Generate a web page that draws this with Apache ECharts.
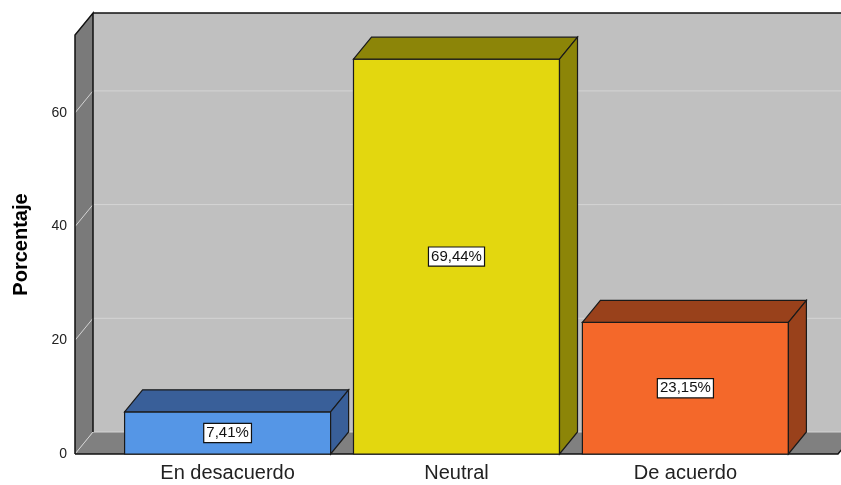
<!DOCTYPE html>
<html>
<head>
<meta charset="utf-8">
<script src="https://cdn.jsdelivr.net/npm/echarts@6/dist/echarts.min.js"></script>
<style>
  html, body { margin: 0; padding: 0; background: #fff; }
  #chart { width: 841px; height: 485px; }
</style>
</head>
<body>
<div id="chart"></div>
<script>
// datos
const categories = ['En desacuerdo', 'Neutral', 'De acuerdo']
const percentages = [7.41, 69.44, 23.15]
const barLabels = ['7,41%', '69,44%', '23,15%']
const yTicks = [0, 20, 40, 60]

// colores: cara frontal / caras superior y lateral
const frontColors = ['#5596e6', '#e3d70f', '#f4682a']
const darkColors = ['#395f99', '#8c8508', '#99411b']

// profundidad del efecto 3D en pixeles
const DX = 18
const DY = -22
const X_MIN = -2 / 3
const X_MAX = 8 / 3
const Y_MAX = 73.7
const BAR_HALF = 0.45

const chart = echarts.init(document.getElementById('chart'))

const back = p => [p[0] + DX, p[1] + DY]

// paredes, suelo y lineas de cuadricula
const renderWalls = (params, api) => {
  const tl = api.coord([X_MIN, Y_MAX])
  const bl = api.coord([X_MIN, 0])
  const br = api.coord([X_MAX, 0])
  const tr = api.coord([X_MAX, Y_MAX])
  const children = [
    { type: 'polygon', shape: { points: [back(tl), back(tr), back(br), back(bl)] }, style: { fill: '#c0c0c0' } },
    { type: 'polygon', shape: { points: [bl, back(bl), back(br), br] }, style: { fill: '#808080' } },
    { type: 'polygon', shape: { points: [tl, back(tl), back(bl), bl] }, style: { fill: '#7a7a7a' } },
  ]
  yTicks.forEach(v => {
    const p = api.coord([X_MIN, v])
    const q = api.coord([X_MAX, v])
    children.push({
      type: 'polyline',
      shape: { points: [p, back(p), back(q)] },
      style: { stroke: '#d4d4d4', lineWidth: 1, fill: null },
    })
  })
  children.push(
    { type: 'polyline', shape: { points: [bl, tl, back(tl), back(bl)] }, style: { stroke: '#111', lineWidth: 1.5, fill: null } },
    { type: 'polyline', shape: { points: [back(tl), back(tr)] }, style: { stroke: '#111', lineWidth: 1.5, fill: null } },
    { type: 'polyline', shape: { points: [bl, br, back(br)] }, style: { stroke: '#111', lineWidth: 1.5, fill: null } },
  )
  return { type: 'group', children }
}

// barras 3D
const renderBar = (params, api) => {
  const i = api.value(0)
  const v = api.value(1)
  const ftl = api.coord([i - BAR_HALF, v])
  const ftr = api.coord([i + BAR_HALF, v])
  const fbl = api.coord([i - BAR_HALF, 0])
  const fbr = api.coord([i + BAR_HALF, 0])
  const edge = { stroke: '#1a1a1a', lineWidth: 1.2 }
  return {
    type: 'group',
    children: [
      { type: 'polygon', shape: { points: [ftl, ftr, fbr, fbl] }, style: { fill: frontColors[i], ...edge } },
      { type: 'polygon', shape: { points: [ftl, back(ftl), back(ftr), ftr] }, style: { fill: darkColors[i], ...edge } },
      { type: 'polygon', shape: { points: [ftr, back(ftr), back(fbr), fbr] }, style: { fill: darkColors[i], ...edge } },
      {
        type: 'text',
        x: (ftl[0] + ftr[0]) / 2,
        y: (ftl[1] + fbl[1]) / 2,
        style: {
          text: barLabels[i],
          fill: '#111',
          font: '15px "Liberation Sans", Arial, sans-serif',
          align: 'center',
          verticalAlign: 'middle',
          backgroundColor: '#fff',
          borderColor: '#111',
          borderWidth: 1.2,
          padding: [2, 2, 1, 2],
        },
      },
    ],
  }
}

chart.setOption({
  animation: false,
  grid: { left: 75, right: 3, top: 35, bottom: 31 },
  xAxis: {
    type: 'value',
    min: X_MIN,
    max: X_MAX,
    axisLine: { show: false },
    axisTick: { show: false },
    splitLine: { show: false },
    axisLabel: {
      customValues: [0, 1, 2],
      formatter: v => categories[Math.round(v)],
      color: '#222',
      fontSize: 20,
      fontFamily: '"Liberation Sans", Arial, sans-serif',
      margin: 9,
    },
  },
  yAxis: {
    type: 'value',
    min: 0,
    max: Y_MAX,
    interval: 20,
    name: 'Porcentaje',
    nameLocation: 'middle',
    nameGap: 44,
    nameTextStyle: {
      color: '#000',
      fontSize: 20,
      fontWeight: 'bold',
      fontFamily: '"Liberation Sans", Arial, sans-serif',
    },
    axisLine: { show: false },
    axisTick: { show: false },
    splitLine: { show: false },
    axisLabel: {
      formatter: v => (yTicks.includes(v) ? String(v) : ''),
      color: '#222',
      fontSize: 14,
      fontFamily: '"Liberation Sans", Arial, sans-serif',
      margin: 8,
    },
  },
  series: [
    {
      type: 'custom',
      renderItem: renderWalls,
      data: [[0, 0]],
      silent: true,
      z: 1,
    },
    {
      type: 'custom',
      renderItem: renderBar,
      data: percentages.map((v, i) => [i, v]),
      z: 2,
    },
  ],
})
</script>
</body>
</html>
